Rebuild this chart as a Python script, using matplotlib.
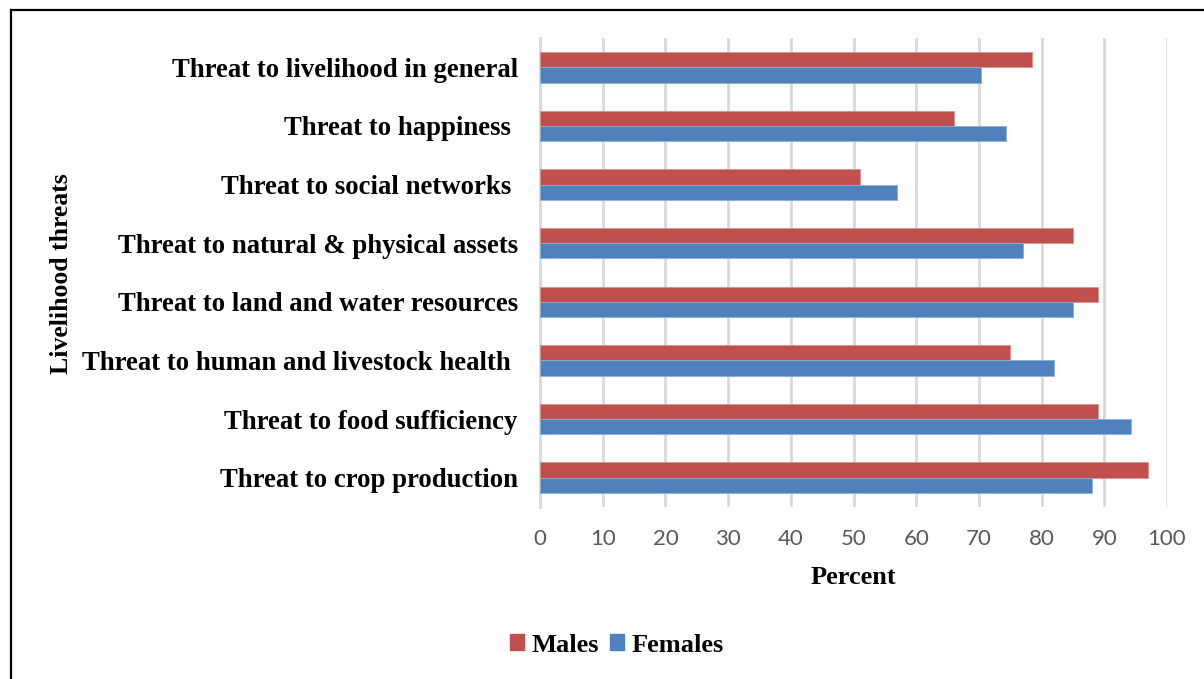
import matplotlib.pyplot as plt
from matplotlib.lines import Line2D
from matplotlib.patches import Patch
import numpy as np

# Share of respondents reporting each livelihood threat (%)
threats = [
    "Threat to livelihood in general",
    "Threat to happiness ",
    "Threat to social networks ",
    "Threat to natural & physical assets",
    "Threat to land and water resources",
    "Threat to human and livestock health ",
    "Threat to food sufficiency",
    "Threat to crop production",
]
males = [78.4, 66, 51, 85, 89, 75, 89, 97]
females = [70.4, 74.3, 57, 77, 85, 82, 94.2, 88]

red = "#C0504D"
blue = "#4F81BD"
serif = "Liberation Serif"

fig = plt.figure(figsize=(12.04, 6.79), dpi=100)
ax = fig.add_axes([540 / 1204, 1 - 507 / 679, 627 / 1204, 469 / 679])

y = np.arange(len(threats))
h = 0.26
ax.barh(y - h / 2, males, height=h, color=red, edgecolor="#D8908E", linewidth=0.6, zorder=3)
ax.barh(y + h / 2, females, height=h, color=blue, edgecolor="#8EB0D8", linewidth=0.6, zorder=3)

ax.set_xlim(0, 100)
ax.set_ylim(len(threats) - 0.5, -0.5)
ax.set_xticks(np.arange(0, 101, 10))
ax.set_yticks(y)
ax.set_yticklabels(threats, fontfamily=serif, fontweight="bold", fontsize=19.3)
ax.tick_params(axis="y", length=0, pad=16)
ax.tick_params(axis="x", length=0, pad=16, labelsize=16, labelcolor="#595959")
for lbl in ax.get_xticklabels():
    lbl.set_fontfamily("Lato")

ax.grid(axis="x", color="#D9D9D9", linewidth=2, zorder=0)
for side in ["top", "right", "bottom"]:
    ax.spines[side].set_visible(False)
ax.spines["left"].set_color("#D9D9D9")
ax.spines["left"].set_linewidth(2)

ax.set_xlabel("Percent", fontfamily=serif, fontweight="bold", fontsize=19, labelpad=12)
fig.text(62 / 1204, 1 - 274 / 679, "Livelihood threats", rotation=90, ha="center", va="center",
         fontfamily=serif, fontweight="bold", fontsize=18.5)

handles = [Patch(color=red, label="Males"), Patch(color=blue, label="Females")]
fig.legend(handles=handles, loc="center", bbox_to_anchor=(617 / 1204, 1 - 645 / 679), ncol=2,
           frameon=False, prop={"family": serif, "weight": "bold", "size": 19},
           handlelength=0.52, handleheight=0.52, handletextpad=0.3, columnspacing=0.4)

# outer frame (left and top edges)
fig.add_artist(Line2D([11 / 1204, 11 / 1204], [0, 1 - 10 / 679], color="black", linewidth=1.6))
fig.add_artist(Line2D([11 / 1204, 1], [1 - 10 / 679, 1 - 10 / 679], color="black", linewidth=1.6))

fig.savefig("out.png", dpi=100, facecolor="white")
